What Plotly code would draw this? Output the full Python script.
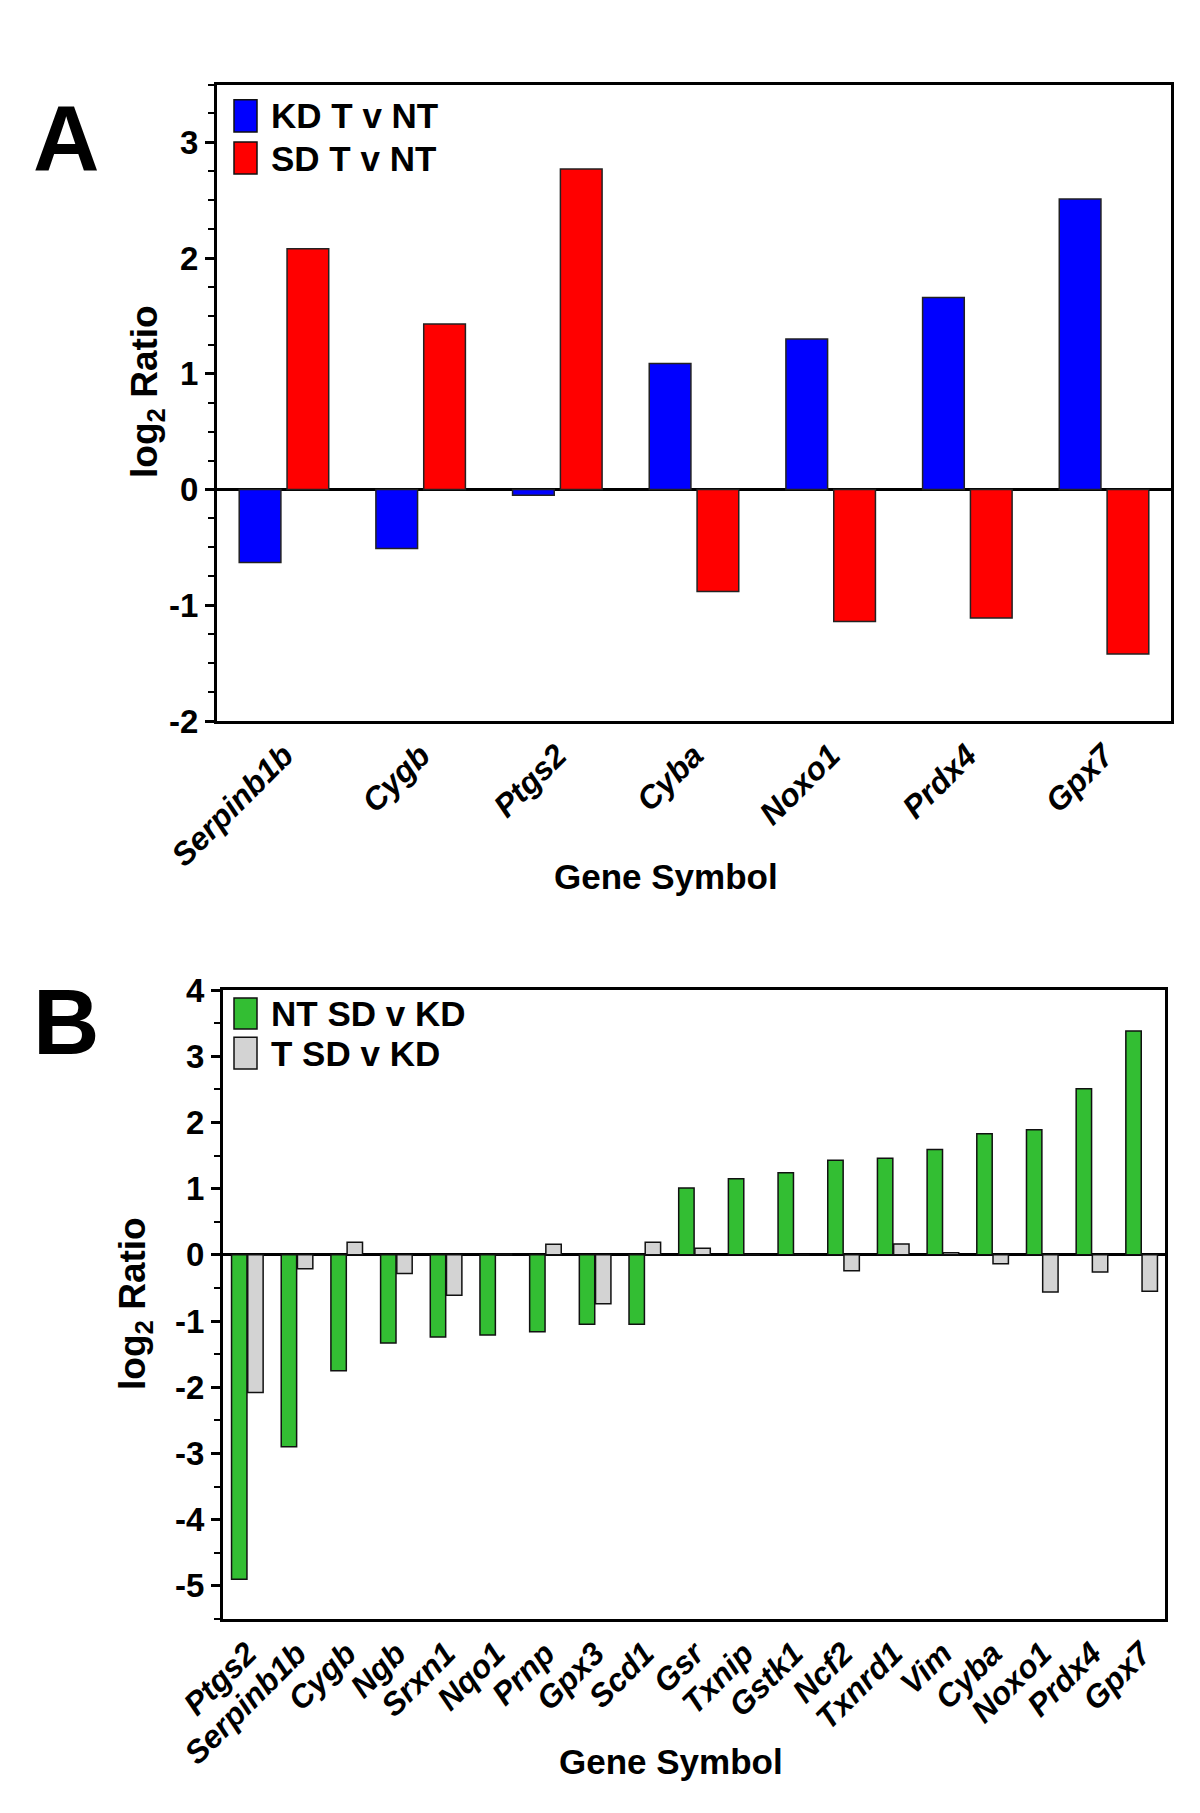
import plotly.graph_objects as go

# ---------------- Data ----------------
genes_a = ["Serpinb1b", "Cygb", "Ptgs2", "Cyba", "Noxo1", "Prdx4", "Gpx7"]
kd_t_v_nt = [-0.63, -0.51, -0.05, 1.09, 1.30, 1.66, 2.51]
sd_t_v_nt = [2.08, 1.43, 2.77, -0.88, -1.14, -1.11, -1.42]

genes_b = ["Ptgs2", "Serpinb1b", "Cygb", "Ngb", "Srxn1", "Nqo1", "Prnp", "Gpx3", "Scd1",
           "Gsr", "Txnip", "Gstk1", "Ncf2", "Txnrd1", "Vim", "Cyba", "Noxo1", "Prdx4", "Gpx7"]
nt_sd_v_kd = [-4.90, -2.90, -1.75, -1.33, -1.24, -1.21, -1.16, -1.05, -1.05,
              1.01, 1.15, 1.24, 1.43, 1.46, 1.59, 1.83, 1.89, 2.51, 3.38]
t_sd_v_kd = [-2.08, -0.21, 0.19, -0.28, -0.61, 0.01, 0.16, -0.74, 0.19,
             0.10, 0.0, 0.0, -0.24, 0.165, 0.03, -0.135, -0.56, -0.26, -0.55]

yticks_a = [-2, -1, 0, 1, 2, 3]
yticks_b = [-5, -4, -3, -2, -1, 0, 1, 2, 3, 4]

# ---------------- Style ----------------
W, H = 1200, 1813
FONT = "Liberation Sans, Arial, sans-serif"
BLUE, RED, GREEN, GREY = "#0000FF", "#FF0000", "#33BE33", "#D3D3D3"

def px_x(px):
    return px / W

def px_y(py):
    return 1 - py / H

fig = go.Figure()

# Panel A bars
fig.add_trace(go.Bar(x=genes_a, y=kd_t_v_nt, name="KD T v NT", xaxis="x", yaxis="y",
                     marker=dict(color=BLUE, line=dict(color="#222", width=1.5)),
                     width=0.305, offset=-0.3275))
fig.add_trace(go.Bar(x=genes_a, y=sd_t_v_nt, name="SD T v NT", xaxis="x", yaxis="y",
                     marker=dict(color=RED, line=dict(color="#222", width=1.5)),
                     width=0.305, offset=0.0225))
# Panel B bars
fig.add_trace(go.Bar(x=genes_b, y=nt_sd_v_kd, name="NT SD v KD", xaxis="x2", yaxis="y2",
                     marker=dict(color=GREEN, line=dict(color="#111", width=1.5)),
                     width=0.31, offset=-0.318))
fig.add_trace(go.Bar(x=genes_b, y=t_sd_v_kd, name="T SD v KD", xaxis="x2", yaxis="y2",
                     marker=dict(color=GREY, line=dict(color="#111", width=1.5)),
                     width=0.31, offset=0.008))

axis_common = dict(showline=True, linecolor="black", linewidth=3, mirror=True,
                   showgrid=False, automargin=False)
xtickfont = dict(family=FONT, size=32, color="black", weight="bold", style="italic")
ytickfont = dict(family=FONT, size=33, color="black", weight="bold")

fig.update_layout(
    width=W, height=H,
    margin=dict(l=0, r=0, t=0, b=0, autoexpand=False),
    paper_bgcolor="white", plot_bgcolor="white",
    barmode="overlay",
    showlegend=False,
    font=dict(family=FONT, color="black"),
    xaxis=dict(domain=[px_x(209), px_x(1163)], anchor="y", type="category",
               range=[-0.49, 6.49], ticks="", tickangle=-45, tickfont=xtickfont,
               zeroline=False, **axis_common),
    yaxis=dict(domain=[px_y(713), px_y(76.5)], anchor="x", range=[-2, 3.5],
               tickvals=yticks_a, ticktext=[str(v) for v in yticks_a],
               ticks="outside", ticklen=9, tickwidth=3, tickcolor="black",
               minor=dict(dtick=0.25, tick0=0, ticks="outside", ticklen=6, tickwidth=2,
                          tickcolor="black"),
               tickfont=ytickfont, zeroline=True, zerolinecolor="black", zerolinewidth=3,
               **axis_common),
    xaxis2=dict(domain=[px_x(215), px_x(1157)], anchor="y2", type="category",
                range=[-0.49, 18.47], ticks="", tickangle=-45, tickfont=xtickfont,
                zeroline=False, **axis_common),
    yaxis2=dict(domain=[px_y(1611), px_y(982)], anchor="x2", range=[-5.5, 4],
                tickvals=yticks_b, ticktext=[str(v) for v in yticks_b],
                ticks="outside", ticklen=9, tickwidth=3, tickcolor="black",
                minor=dict(dtick=0.5, tick0=0, ticks="outside", ticklen=6, tickwidth=2,
                           tickcolor="black"),
                tickfont=ytickfont, zeroline=True, zerolinecolor="black", zerolinewidth=3,
                **axis_common),
)

# Custom legends (boxes + text)
legend_items = [
    (BLUE, "KD T v NT", 91.7, 124),
    (RED, "SD T v NT", 134, 166),
    (GREEN, "NT SD v KD", 990, 1021),
    (GREY, "T SD v KD", 1029.3, 1061),
]
shapes = []
annotations = []
for color, label, y0, y1 in legend_items:
    shapes.append(dict(type="rect", xref="paper", yref="paper",
                       x0=px_x(226), x1=px_x(249), y0=px_y(y1), y1=px_y(y0),
                       fillcolor=color, line=dict(color="#111", width=1.5)))
    annotations.append(dict(text=label, xref="paper", yref="paper",
                            x=px_x(261), y=px_y((y0 + y1) / 2), xanchor="left",
                            yanchor="middle", showarrow=False,
                            font=dict(family=FONT, size=35, color="black", weight="bold")))

title_font = dict(family=FONT, size=35, color="black", weight="bold")
ytitle_font = dict(family=FONT, size=37, color="black", weight="bold")
annotations += [
    dict(text="log<sub>2</sub> Ratio", xref="paper", yref="paper", x=px_x(139), y=px_y(384),
         textangle=-90, showarrow=False, xanchor="center", yanchor="middle", font=ytitle_font),
    dict(text="Gene Symbol", xref="paper", yref="paper", x=px_x(658), y=px_y(869),
         showarrow=False, xanchor="center", yanchor="middle", font=title_font),
    dict(text="log<sub>2</sub> Ratio", xref="paper", yref="paper", x=px_x(127), y=px_y(1296),
         textangle=-90, showarrow=False, xanchor="center", yanchor="middle", font=ytitle_font),
    dict(text="Gene Symbol", xref="paper", yref="paper", x=px_x(663), y=px_y(1753),
         showarrow=False, xanchor="center", yanchor="middle", font=title_font),
    dict(text="A", xref="paper", yref="paper", x=px_x(58), y=px_y(130),
         showarrow=False, xanchor="center", yanchor="middle",
         font=dict(family=FONT, size=92, color="black", weight="bold")),
    dict(text="B", xref="paper", yref="paper", x=px_x(58), y=px_y(1014),
         showarrow=False, xanchor="center", yanchor="middle",
         font=dict(family=FONT, size=92, color="black", weight="bold")),
]
fig.update_layout(shapes=shapes, annotations=annotations)

fig.write_html("out.html")
